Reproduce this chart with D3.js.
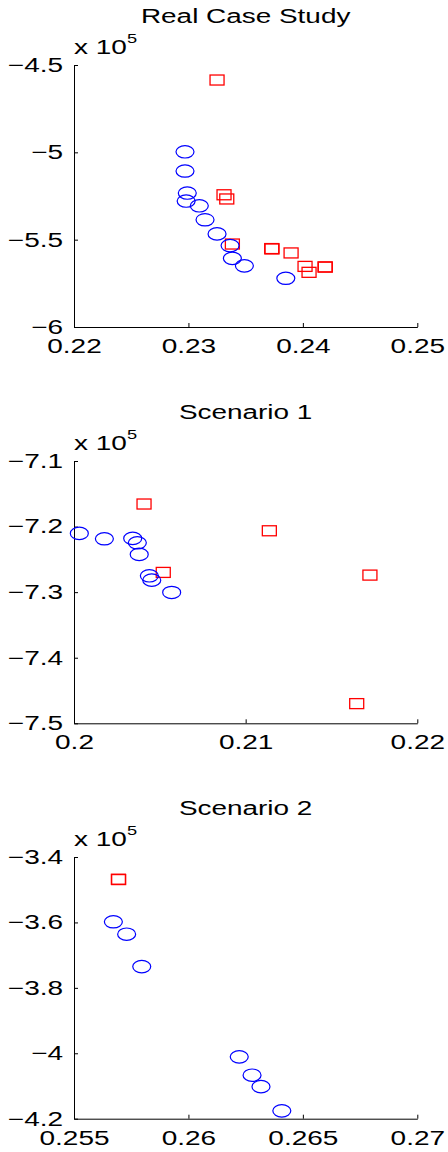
<!DOCTYPE html>
<html>
<head>
<meta charset="utf-8">
<script src="https://cdn.jsdelivr.net/npm/d3@7"></script>
<style>
  body { margin: 0; background: #fff; }
  svg { display: block; }
  text { font-family: "Liberation Sans", Arial, Helvetica, sans-serif; fill: #000; }
</style>
</head>
<body>
<div id="chart"></div>
<script>
// panel titles
var titles = ["Real Case Study", "Scenario 1", "Scenario 2"];

// x / y tick values of each panel (y in real units, labels shown x 10^5)
var xTicks1 = [0.22, 0.23, 0.24, 0.25];
var yTicks1 = [-4.5e5, -5e5, -5.5e5, -6e5];
var xTicks2 = [0.2, 0.21, 0.22];
var yTicks2 = [-7.1e5, -7.2e5, -7.3e5, -7.4e5, -7.5e5];
var xTicks3 = [0.255, 0.26, 0.265, 0.27];
var yTicks3 = [-3.4e5, -3.6e5, -3.8e5, -4.0e5, -4.2e5];

// Real Case Study: blue circles
var circX1 = [0.2297, 0.2297, 0.2299, 0.2298, 0.23095, 0.23145, 0.2325, 0.23364, 0.23384, 0.23489, 0.23851];
var circY1 = [-4.997e5, -5.107e5, -5.233e5, -5.279e5, -5.306e5, -5.386e5, -5.467e5, -5.534e5, -5.607e5, -5.650e5, -5.721e5];
// Real Case Study: red squares
var sqX1 = [0.2325, 0.23311, 0.23335, 0.23384, 0.23728, 0.23730, 0.23897, 0.24019, 0.24054, 0.24194, 0.24196];
var sqY1 = [-4.586e5, -5.243e5, -5.267e5, -5.525e5, -5.551e5, -5.553e5, -5.576e5, -5.653e5, -5.687e5, -5.656e5, -5.657e5];

// Scenario 1
var circX2 = [0.20031, 0.20177, 0.20342, 0.20369, 0.20380, 0.20439, 0.20453, 0.20569];
var circY2 = [-7.2104e5, -7.2186e5, -7.218e5, -7.2247e5, -7.2424e5, -7.2751e5, -7.2817e5, -7.3005e5];
var sqX2 = [0.20408, 0.21138, 0.2052, 0.21724, 0.21647];
var sqY2 = [-7.1656e5, -7.2064e5, -7.2699e5, -7.274e5, -7.470e5];

// Scenario 2
var circX3 = [0.25672, 0.25730, 0.25796, 0.26222, 0.26278, 0.26317, 0.26408];
var circY3 = [-3.598e5, -3.636e5, -3.735e5, -4.011e5, -4.067e5, -4.102e5, -4.176e5];
var sqX3 = [0.25694, 0.25695];
var sqY3 = [-3.468e5, -3.469e5];

var W = 448, H = 1152;
var sx = 1.4; // text is stretched horizontally in the original figure

var svg = d3.select("#chart").append("svg")
  .attr("width", W).attr("height", H);

var panels = [
  { title: titles[0], top: 65, bottom: 327, xt: xTicks1, yt: yTicks1, cx: circX1, cy: circY1, qx: sqX1, qy: sqY1 },
  { title: titles[1], top: 461, bottom: 723.3, xt: xTicks2, yt: yTicks2, cx: circX2, cy: circY2, qx: sqX2, qy: sqY2 },
  { title: titles[2], top: 857, bottom: 1118.7, xt: xTicks3, yt: yTicks3, cx: circX3, cy: circY3, qx: sqX3, qy: sqY3 }
];

var left = 74, right = 417.3;
var fmtY = function(d) { return d3.format("")(+(d / 1e5).toFixed(2)); };
var fmtX = function(d) { return d3.format("")(d); };

panels.forEach(function(p) {
  var x = d3.scaleLinear()
    .domain([p.xt[0], p.xt[p.xt.length - 1]])
    .range([left, right]);
  var y = d3.scaleLinear()
    .domain([p.yt[p.yt.length - 1], p.yt[0]])
    .range([p.bottom, p.top]);

  var g = svg.append("g");

  // title
  g.append("text")
    .attr("transform", "translate(" + ((left + right) / 2) + "," + (p.top - 42) + ") scale(1.33,1)")
    .attr("text-anchor", "middle")
    .style("font-size", "21px")
    .text(p.title);

  // exponent label
  var ex = g.append("text")
    .attr("transform", "translate(" + left + "," + (p.top - 11) + ") scale(" + sx + ",1)")
    .style("font-size", "20px");
  ex.append("tspan").text("x 10");
  ex.append("tspan").attr("dy", -11).style("font-size", "13px").text("5");

  // axes
  var yAxis = d3.axisLeft(y).tickValues(p.yt).tickSizeInner(-4).tickSizeOuter(0)
    .tickPadding(7.8).tickFormat(fmtY);
  var xAxis = d3.axisBottom(x).tickValues(p.xt).tickSizeInner(-4).tickSizeOuter(0)
    .tickPadding(12).tickFormat(fmtX);

  var ya = g.append("g").attr("transform", "translate(" + left + ",0)").call(yAxis);
  var xa = g.append("g").attr("transform", "translate(0," + p.bottom + ")").call(xAxis);

  [ya, xa].forEach(function(a) {
    a.select(".domain").attr("stroke", "#000").attr("stroke-width", 1);
    a.selectAll(".tick line").attr("stroke", "#000");
    a.selectAll(".tick text")
      .attr("transform", "scale(" + sx + ",1)")
      .style("font-size", "20px")
      .style("font-family", "'Liberation Sans', Arial, sans-serif")
      .attr("fill", "#000");
  });

  // red squares
  g.selectAll("rect.sq")
    .data(d3.range(p.qx.length))
    .enter().append("rect")
    .attr("class", "sq")
    .attr("x", function(i) { return x(p.qx[i]) - 7; })
    .attr("y", function(i) { return y(p.qy[i]) - 5; })
    .attr("width", 14)
    .attr("height", 10)
    .attr("fill", "none")
    .attr("stroke", "#ff0000")
    .attr("stroke-width", 1.3);

  // blue circles
  g.selectAll("ellipse.pt")
    .data(d3.range(p.cx.length))
    .enter().append("ellipse")
    .attr("class", "pt")
    .attr("cx", function(i) { return x(p.cx[i]); })
    .attr("cy", function(i) { return y(p.cy[i]); })
    .attr("rx", 9)
    .attr("ry", 6.2)
    .attr("fill", "none")
    .attr("stroke", "#0000ff")
    .attr("stroke-width", 1.2);
});
</script>
</body>
</html>
